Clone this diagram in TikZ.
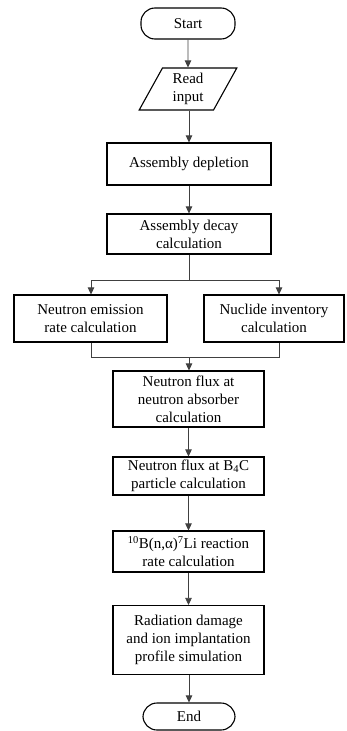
\documentclass[tikz,border=0pt]{standalone}
\usepackage{fontspec}
\setmainfont{Liberation Serif}
\usetikzlibrary{shapes.geometric,arrows.meta}
\begin{document}
\begin{tikzpicture}[x=1pt,y=-1pt,
  every node/.style={font=\fontsize{15}{18}\selectfont, align=center, inner sep=0pt},
  box/.style={draw=black, line width=1.1pt, rectangle},
  term/.style={draw=black, line width=1.1pt, rectangle, rounded corners=14pt},
  io/.style={draw=black, line width=1.1pt, trapezium, trapezium left angle=66, trapezium right angle=114, trapezium stretches=true},
  conn/.style={draw=black!75, line width=0.75pt},
  arr/.style={conn, -{Triangle[width=6.5pt,length=7pt]}}]
\useasboundingbox (0,0) rectangle (346,731);

\node[term, minimum width=94pt, minimum height=31pt] (start) at (188,23.5) {Start};
\node[io, minimum width=98pt, minimum height=42pt] (read) at (188,89) {Read\\input};
\node[box, minimum width=164pt, minimum height=42pt] (depl) at (189,164) {Assembly depletion};
\node[box, minimum width=164pt, minimum height=40pt] (decay) at (189,234) {Assembly decay\\calculation};
\node[box, minimum width=153pt, minimum height=47pt] (emis) at (90.5,318.5) {Neutron emission\\rate calculation};
\node[box, minimum width=140pt, minimum height=47pt] (nuc) at (274,318.5) {Nuclide inventory\\calculation};
\node[box, minimum width=151pt, minimum height=56pt] (flux) at (188.5,399) {Neutron flux at\\neutron absorber\\calculation};
\node[box, minimum width=151pt, minimum height=38pt] (b4c) at (188.5,476) {Neutron flux at B\textsubscript{4}C\\particle calculation};
\node[box, minimum width=151pt, minimum height=41pt] (boron) at (188.5,551.5) {\textsuperscript{10}B(n,α)\textsuperscript{7}Li reaction\\rate calculation};
\node[box, minimum width=151pt, minimum height=69pt] (rad) at (188.5,640) {Radiation damage\\and ion implantation\\profile simulation};
\node[term, minimum width=92pt, minimum height=27pt] (end) at (189,716.5) {End};

\coordinate (split) at (189,280);
\coordinate (sl) at (91,280);
\coordinate (sr) at (279,280);
\coordinate (merge) at (189,357);
\coordinate (ml) at (91,357);
\coordinate (mr) at (279,357);

\draw[arr] (start) -- (read);
\draw[arr] (read.south -| depl) -- (depl);
\draw[arr] (depl) -- (decay);
\draw[conn] (decay.south) -- (split);
\draw[arr] (split) -- (sl) -- (sl |- emis.north);
\draw[arr] (split) -- (sr) -- (sr |- nuc.north);
\draw[conn] (ml |- emis.south) -- (ml) -- (mr) -- (mr |- nuc.south);
\draw[arr] (merge) -- (merge |- flux.north);
\draw[arr] (flux) -- (b4c);
\draw[arr] (b4c) -- (boron);
\draw[arr] (boron) -- (rad);
\draw[arr] (rad.south -| end) -- (end);
\end{tikzpicture}
\end{document}
